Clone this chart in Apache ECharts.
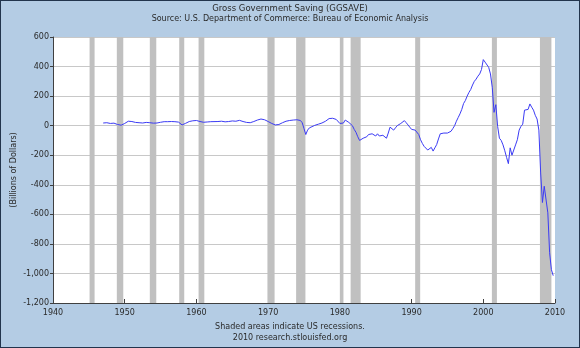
<!DOCTYPE html>
<html>
<head>
<meta charset="utf-8">
<script src="https://cdn.jsdelivr.net/npm/echarts@6/dist/echarts.min.js"></script>
<style>
  html, body { margin: 0; padding: 0; background: #b4cce4; }
  #frame { width: 580px; height: 348px; box-sizing: border-box; border: 1px solid #22344c; }
  #chart { width: 578px; height: 346px; }
</style>
</head>
<body>
<div id="frame"><div id="chart"></div></div>
<script>
// Gross Government Saving, billions of dollars (date as decimal year)
const dates = [
  1947.0, 1947.5, 1948.0, 1948.5, 1949.0, 1949.5, 1949.75, 1950.0, 1950.25, 1950.5,
  1951.0, 1951.5, 1952.0, 1952.5, 1953.0, 1953.5, 1954.0, 1954.5, 1955.0, 1955.5,
  1956.0, 1956.5, 1957.0, 1957.5, 1957.75, 1958.0, 1958.25, 1958.5, 1959.0, 1959.5,
  1960.0, 1960.5, 1961.0, 1961.5, 1962.0, 1963.0, 1963.5, 1964.0, 1964.5, 1965.0,
  1965.5, 1966.0, 1966.5, 1967.0, 1967.5, 1968.0, 1968.5, 1969.0, 1969.5, 1970.0,
  1970.5, 1971.0, 1971.25, 1971.5, 1972.0, 1972.5, 1973.0, 1973.5, 1974.0, 1974.5,
  1974.75, 1975.0, 1975.25, 1975.5, 1975.75, 1976.0, 1976.5, 1977.0, 1977.5, 1978.0,
  1978.5, 1978.75, 1979.0, 1979.5, 1979.75, 1980.0, 1980.25, 1980.5, 1980.75, 1981.0,
  1981.25, 1981.5, 1981.75, 1982.0, 1982.25, 1982.5, 1982.75, 1983.0, 1983.25, 1983.5,
  1983.75, 1984.0, 1984.25, 1984.5, 1984.75, 1985.0, 1985.25, 1985.5, 1985.75, 1986.0,
  1986.25, 1986.5, 1986.75, 1987.0, 1987.25, 1987.5, 1987.75, 1988.0, 1988.25, 1988.5,
  1988.75, 1989.0, 1989.25, 1989.5, 1989.75, 1990.0, 1990.25, 1990.5, 1990.75, 1991.0,
  1991.25, 1991.5, 1991.75, 1992.0, 1992.25, 1992.5, 1992.75, 1993.0, 1993.25, 1993.5,
  1993.75, 1994.0, 1994.25, 1994.5, 1994.75, 1995.0, 1995.25, 1995.5, 1995.75, 1996.0,
  1996.25, 1996.5, 1996.75, 1997.0, 1997.25, 1997.5, 1997.75, 1998.0, 1998.25, 1998.5,
  1998.75, 1999.0, 1999.25, 1999.5, 1999.75, 2000.0, 2000.25, 2000.5, 2000.75, 2001.0,
  2001.25, 2001.5, 2001.75, 2002.0, 2002.25, 2002.5, 2002.75, 2003.0, 2003.25, 2003.5,
  2003.75, 2004.0, 2004.25, 2004.5, 2004.75, 2005.0, 2005.25, 2005.5, 2005.75, 2006.0,
  2006.25, 2006.5, 2006.75, 2007.0, 2007.25, 2007.5, 2007.75, 2008.0, 2008.25, 2008.5,
  2008.75, 2009.0, 2009.25, 2009.5, 2009.75
];
const saving = [
  18, 20, 15, 17, 8, 3, 0, 15, 25, 30,
  28, 22, 20, 18, 22, 20, 17, 18, 23, 27,
  27, 28, 27, 24, 15, 5, 8, 16, 28, 33,
  35, 28, 23, 25, 27, 28, 30, 26, 28, 32,
  30, 36, 28, 22, 20, 28, 38, 45, 40, 28,
  15, 5, 2, 8, 20, 30, 35, 38, 40, 35,
  20, -20, -60, -30, -15, -5, 2, 10, 18, 30,
  48, 52, 50, 42, 35, 15, 2, 18, 38, 35,
  22, 15, 0, -25, -45, -75, -100, -95, -85, -80,
  -75, -60, -65, -55, -48, -70, -55, -70, -60, -65,
  -75, -85, -50, -10, -20, -30, -15, 0, 5, 15,
  25, 34, 20, 5, -10, -25, -38, -30, -27, -60,
  -95, -120, -140, -150, -165, -158, -147, -172, -150, -128,
  -90, -55, -45, -50, -48, -50, -45, -38, -20, 0,
  30, 55, 80, 110, 150, 170, 200, 225, 245, 275,
  300, 315, 335, 350, 380, 447, 430, 420, 395, 350,
  260, 90, 142, -5, -85, -100, -130, -170, -215, -257,
  -150, -200, -165, -130, -95, -30, -5, 10, 105, 95,
  110, 147, 125, 105, 70, 45, -30, -320, -520, -410,
  -405, -590, -860, -975, -1015
];

// US recessions (start, end as decimal year)
const recessionStart = [1945.1, 1948.9, 1953.5, 1957.6, 1960.3, 1969.9, 1973.9, 1980.0, 1981.5, 1990.5, 2001.2, 2007.9];
const recessionEnd   = [1945.8, 1949.8, 1954.4, 1958.3, 1961.1, 1970.9, 1975.2, 1980.5, 1982.9, 1991.2, 2001.9, 2009.5];

const yTicks = { min: -1200, max: 600, step: 200 };
const xTicks = { min: 1940, max: 2010, step: 10 };

const titleText = 'Gross Government Saving (GGSAVE)';
const sourceText = 'Source: U.S. Department of Commerce: Bureau of Economic Analysis';
const noteText = 'Shaded areas indicate US recessions.';
const creditText = '2010 research.stlouisfed.org';
const yAxisName = '(Billions of Dollars)';

const font = 'DejaVu Sans, Verdana, sans-serif';
const textColor = '#2a2a2a';

const chart = echarts.init(document.getElementById('chart'), null, { renderer: 'canvas' });

const seriesData = dates.map((d, i) => [d, saving[i]]);
const recessionAreas = recessionStart.map((s, i) => [{ xAxis: s }, { xAxis: recessionEnd[i] }]);

const smallText = { fontFamily: font, fontSize: 8, color: textColor, fontWeight: 'normal' };
const headText = Object.assign({}, smallText, { fontSize: 8.5 });

chart.setOption({
  backgroundColor: '#b4cce4',
  animation: false,
  title: [
    { text: titleText, left: 'center', top: 3, padding: 0, textStyle: headText },
    { text: sourceText, left: 'center', top: 14, padding: 0, textStyle: smallText },
    { text: noteText, left: 'center', top: 322, padding: 0, textStyle: smallText },
    { text: creditText, left: 'center', top: 333, padding: 0, textStyle: smallText }
  ],
  grid: {
    left: 52, right: 24, top: 36, bottom: 44,
    outerBoundsMode: 'none', containLabel: false,
    backgroundColor: '#ffffff', show: true, borderWidth: 0
  },
  xAxis: {
    type: 'value',
    min: xTicks.min, max: xTicks.max, interval: xTicks.step,
    axisLine: { show: true, onZero: false, lineStyle: { color: '#404040', width: 1 } },
    axisTick: { show: true, inside: true, length: 4, lineStyle: { color: '#404040' } },
    axisLabel: { fontFamily: font, fontSize: 8, color: textColor, margin: 6, formatter: v => String(v) },
    splitLine: { show: false }
  },
  yAxis: {
    type: 'value',
    min: yTicks.min, max: yTicks.max, interval: yTicks.step,
    name: yAxisName, nameLocation: 'middle', nameRotate: 90, nameGap: 35,
    nameMoveOverlap: false,
    nameTextStyle: { fontFamily: font, fontSize: 8, color: textColor },
    axisLine: { show: true, lineStyle: { color: '#404040', width: 1 } },
    axisTick: { show: true, inside: false, length: 3, lineStyle: { color: '#404040' } },
    axisLabel: { fontFamily: font, fontSize: 8, color: textColor, margin: 4,
      formatter: v => v.toLocaleString('en-US') },
    splitLine: { show: true, lineStyle: { color: '#c8c8c8', width: 1 } }
  },
  series: [{
    type: 'line',
    data: seriesData,
    showSymbol: false,
    symbol: 'none',
    lineStyle: { color: '#3b3bf5', width: 1 },
    z: 3,
    markArea: {
      silent: true,
      itemStyle: { color: '#c0c0c0', opacity: 1 },
      data: recessionAreas
    }
  }]
});
</script>
</body>
</html>
